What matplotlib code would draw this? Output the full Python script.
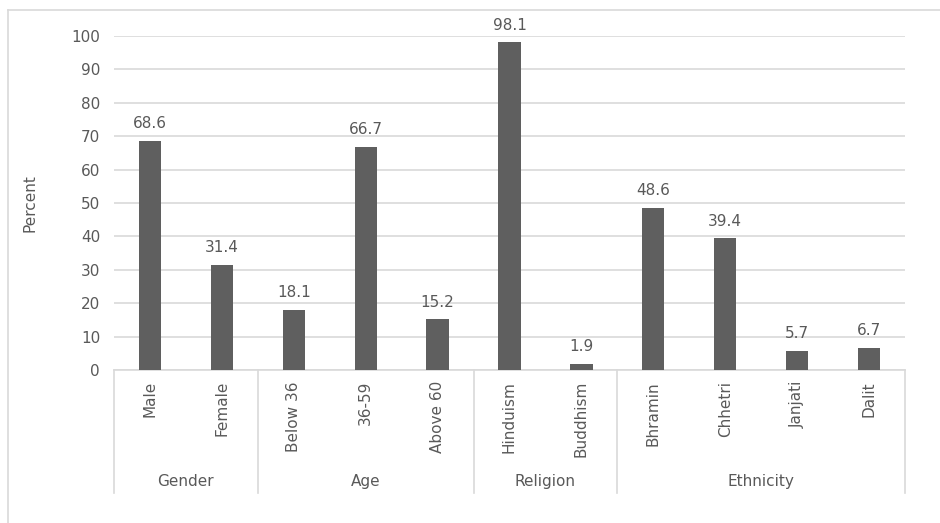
import numpy as np
import matplotlib.pyplot as plt
from matplotlib.lines import Line2D
import matplotlib.transforms as mtransforms

# chart values
categories = ['Male', 'Female', 'Below 36', '36-59', 'Above 60', 'Hinduism', 'Buddhism',
              'Bhramin', 'Chhetri', 'Janjati', 'Dalit']
values = [68.6, 31.4, 18.1, 66.7, 15.2, 98.1, 1.9, 48.6, 39.4, 5.7, 6.7]
groups = ['Gender', 'Age', 'Religion', 'Ethnicity']
group_sizes = [2, 3, 2, 4]

text_col = '#595959'
bar_col = '#5f5f5f'
grid_col = '#d9d9d9'

plt.rcParams['font.family'] = ['DejaVu Sans']
plt.rcParams['font.size'] = 11

fig = plt.figure(figsize=(9.4, 5.23), dpi=100)
ax = fig.add_axes([114 / 940, 1 - 370 / 523, (905 - 114) / 940, (370 - 36) / 523])

x = np.arange(len(categories))
ax.bar(x, values, width=0.31, color=bar_col, zorder=3)

# data labels
for xi, v in zip(x, values):
    ax.annotate('%.1f' % v, (xi, v), xytext=(0, 7), textcoords='offset points',
                ha='center', va='bottom', color=text_col, fontsize=11, annotation_clip=False)

ax.set_xlim(-0.5, len(categories) - 0.5)
ax.set_ylim(0, 100)
ax.set_yticks(np.arange(0, 101, 10))
ax.yaxis.grid(True, color=grid_col, linewidth=1.2, zorder=0)
ax.set_axisbelow(True)
for s in ['top', 'right', 'left']:
    ax.spines[s].set_visible(False)
ax.spines['bottom'].set_color(grid_col)
ax.spines['bottom'].set_linewidth(1.2)
ax.tick_params(axis='y', length=0, pad=10, colors=text_col, labelsize=11)
ax.set_xticks(x)
ax.set_xticklabels(categories, rotation=90, va='top')
ax.tick_params(axis='x', length=0, pad=8, colors=text_col, labelsize=11)
ax.set_ylabel('Percent', color=text_col, fontsize=11, labelpad=24)

# multi-level category axis
trans = mtransforms.blended_transform_factory(ax.transData, ax.transAxes)
edges = np.concatenate([[0], np.cumsum(group_sizes)]) - 0.5
for e in edges:
    ax.plot([e, e], [0, -0.368], color=grid_col, linewidth=1.2, transform=trans, clip_on=False)
for g, a, b in zip(groups, edges[:-1], edges[1:]):
    ax.text((a + b) / 2, -0.335, g, transform=trans, ha='center', va='center',
            color=text_col, fontsize=11)

# outer chart border (top and left)
fig.add_artist(Line2D([8 / 940, 8 / 940], [0, 1 - 10 / 523], color=grid_col, linewidth=1.2))
fig.add_artist(Line2D([8 / 940, 1], [1 - 10 / 523, 1 - 10 / 523], color=grid_col, linewidth=1.2))

fig.savefig('out.png', dpi=100)
